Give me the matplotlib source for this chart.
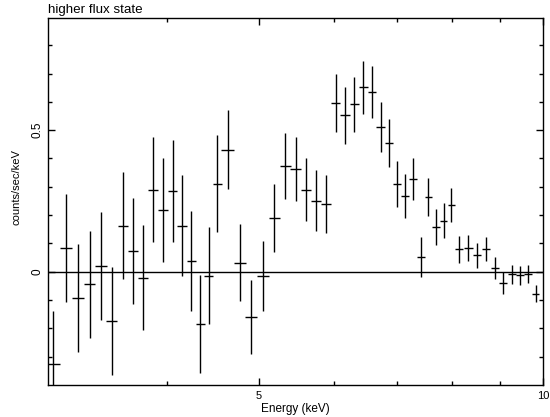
import matplotlib
matplotlib.use("Agg")
import matplotlib.pyplot as plt
from matplotlib.ticker import FixedLocator, FixedFormatter, NullFormatter

# bin centres (keV)
energy = [3.028, 3.124, 3.215, 3.310, 3.402, 3.495, 3.591, 3.680, 3.771, 3.864,
          3.960, 4.051, 4.145, 4.241, 4.335, 4.424, 4.519, 4.634, 4.772, 4.910,
          5.052, 5.194, 5.332, 5.468, 5.613, 5.752, 5.888, 6.030, 6.168, 6.311,
          6.451, 6.588, 6.730, 6.868, 7.004, 7.142, 7.284, 7.422, 7.563, 7.703,
          7.845, 7.992, 8.149, 8.330, 8.516, 8.705, 8.899, 9.076, 9.264, 9.447,
          9.634, 9.823]

# half bin widths (keV)
energy_err = [0.047] * 17 + [0.070] * 25 + [0.078] + [0.090] * 9

counts = [-0.327, 0.084, -0.092, -0.045, 0.020, -0.174, 0.163, 0.073, -0.021, 0.290,
          0.219, 0.285, 0.163, 0.038, -0.186, -0.014, 0.311, 0.431, 0.032, -0.160,
          -0.016, 0.190, 0.373, 0.362, 0.290, 0.251, 0.240, 0.595, 0.552, 0.591,
          0.652, 0.634, 0.512, 0.455, 0.310, 0.267, 0.328, 0.052, 0.263, 0.159,
          0.180, 0.237, 0.079, 0.085, 0.058, 0.080, 0.014, -0.040, -0.009, -0.012,
          -0.009, -0.077]

counts_err = [0.190, 0.190, 0.190, 0.190, 0.190, 0.190, 0.190, 0.188, 0.186, 0.186,
              0.184, 0.181, 0.178, 0.176, 0.173, 0.171, 0.172, 0.140, 0.137, 0.131,
              0.123, 0.120, 0.116, 0.113, 0.110, 0.107, 0.103, 0.103, 0.100, 0.097,
              0.094, 0.092, 0.088, 0.085, 0.081, 0.078, 0.074, 0.070, 0.067, 0.064,
              0.062, 0.060, 0.049, 0.046, 0.044, 0.041, 0.039, 0.038, 0.034, 0.034,
              0.032, 0.030]

plt.rcParams["font.family"] = ["Liberation Sans", "DejaVu Sans"]
plt.rcParams["font.size"] = 8

fig = plt.figure(figsize=(5.5, 4.17), dpi=100)
ax = fig.add_axes([0.0873, 0.0767, 0.9, 0.88])

ax.errorbar(energy, counts, xerr=energy_err, yerr=counts_err, fmt="none",
            ecolor="black", elinewidth=1.0, capsize=0)
ax.axhline(0, color="black", linewidth=1.0)

ax.set_xscale("log")
ax.set_xlim(2.99, 10)
ax.set_ylim(-0.4, 0.896)

ax.xaxis.set_major_locator(FixedLocator([5, 10]))
ax.xaxis.set_major_formatter(FixedFormatter(["5", "10"]))
ax.xaxis.set_minor_locator(FixedLocator([4, 6, 7, 8, 9]))
ax.xaxis.set_minor_formatter(NullFormatter())
ax.yaxis.set_major_locator(FixedLocator([0, 0.5]))
ax.yaxis.set_major_formatter(FixedFormatter(["0", "0.5"]))
ax.yaxis.set_minor_locator(FixedLocator([-0.3, -0.2, -0.1, 0.1, 0.2, 0.3, 0.4, 0.6, 0.7, 0.8]))

ax.tick_params(which="both", direction="in", top=True, right=True, width=1.0)
ax.tick_params(which="major", length=5)
ax.tick_params(which="minor", length=3)
ax.tick_params(axis="x", pad=4)
ax.tick_params(axis="y", pad=3, labelsize=8.5)
for lbl in ax.get_yticklabels():
    lbl.set_rotation(90)
    lbl.set_va("center")

for s in ax.spines.values():
    s.set_linewidth(1.0)

ax.set_xlabel("Energy (keV)", fontsize=8.5, labelpad=2)
ax.set_ylabel("counts/sec/keV")
ax.yaxis.set_label_coords(-0.053, 0.54)
ax.set_title("higher flux state", loc="left", pad=4)

fig.savefig("out.png", dpi=100)
